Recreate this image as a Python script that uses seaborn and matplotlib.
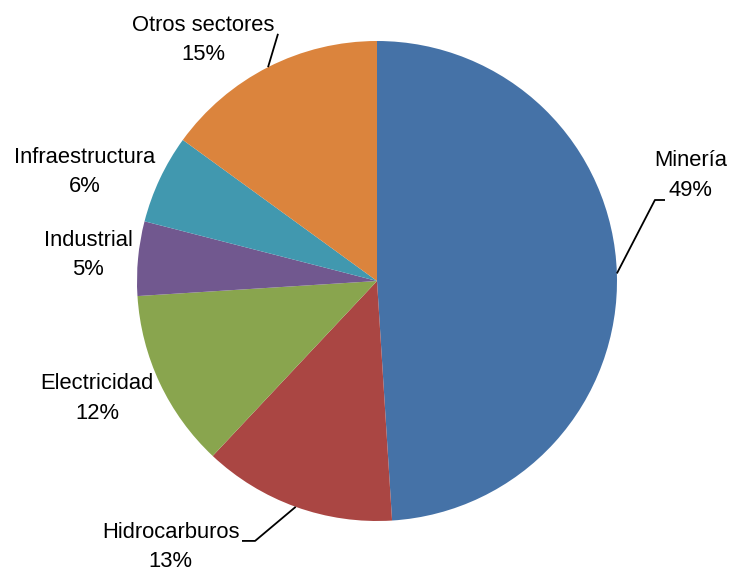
import numpy as np
import matplotlib
matplotlib.use("Agg")
import matplotlib.pyplot as plt
import seaborn as sns

sns.set_theme(style="white")
plt.rcParams["font.family"] = ["Liberation Sans", "DejaVu Sans"]

sectors = ["Minería", "Hidrocarburos", "Electricidad", "Industrial", "Infraestructura", "Otros sectores"]
shares = [49, 13, 12, 5, 6, 15]
colors = sns.color_palette(["#4572A7", "#AA4643", "#89A54E", "#71588F", "#4198AF", "#DB843D"])

# label text centres (pie radius = 1, centre = 0,0)
label_pos = {
    "Minería": (1.308, 0.44),
    "Hidrocarburos": (-0.86, -1.108),
    "Electricidad": (-1.167, -0.49),
    "Industrial": (-1.204, 0.108),
    "Infraestructura": (-1.217, 0.454),
    "Otros sectores": (-0.725, 1.004),
}
# leader lines: elbow and end point
leaders = {
    "Minería": [(1.158, 0.3375), (1.2, 0.3375)],
    "Hidrocarburos": [(-0.508, -1.083), (-0.5625, -1.083)],
    "Otros sectores": [(-0.4125, 1.03), (-0.4125, 1.03)],
}

fig = plt.figure(figsize=(7.29, 5.74), dpi=100)
ax = fig.add_axes([0, 0, 1, 1])
wedges, _ = ax.pie(shares, colors=colors, startangle=90, counterclock=False,
                   radius=1, wedgeprops={"linewidth": 0})
ax.set_xlim(-377 / 240, (729 - 377) / 240)
ax.set_ylim(-(574 - 281) / 240, 281 / 240)
ax.set_aspect("equal")
ax.axis("off")

for w, name, val in zip(wedges, sectors, shares):
    x, y = label_pos[name]
    ax.text(x, y, f"{name}\n{val}%", ha="center", va="center", fontsize=15.8,
            color="black", linespacing=1.55)
    if name in leaders:
        ang = np.deg2rad((w.theta1 + w.theta2) / 2)
        pts = [(np.cos(ang), np.sin(ang))] + leaders[name]
        xs, ys = zip(*pts)
        ax.plot(xs, ys, color="black", lw=1.3, solid_capstyle="butt")

fig.savefig("out.png", dpi=100)
